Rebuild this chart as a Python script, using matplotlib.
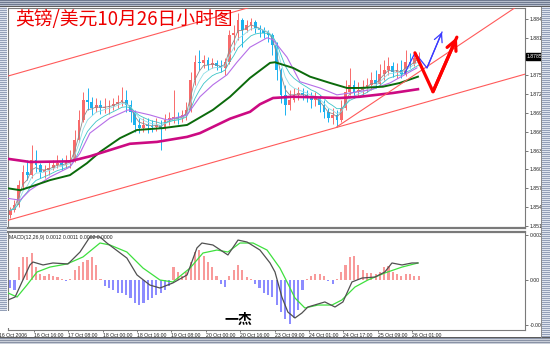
import numpy as np
import pandas as pd
import matplotlib
matplotlib.use("Agg")
import matplotlib.pyplot as plt
from matplotlib.patches import Rectangle
from matplotlib.transforms import blended_transform_factory
from matplotlib import font_manager

# ---------------- data (GBP/USD, 2-hour candles) ----------------
first_open = 1.8532
closes = [1.8540, 1.8548, 1.8580, 1.8601, 1.8596, 1.8620, 1.8612, 1.8601, 1.8604, 1.8607,
          1.8612, 1.8615, 1.8612, 1.8617, 1.8620, 1.8652, 1.8684, 1.8716, 1.8713, 1.8703,
          1.8708, 1.8703, 1.8705, 1.8706, 1.8709, 1.8713, 1.8716, 1.8708, 1.8697, 1.8676,
          1.8671, 1.8676, 1.8674, 1.8673, 1.8676, 1.8671, 1.8684, 1.8687, 1.8689, 1.8687,
          1.8692, 1.8700, 1.8748, 1.8776, 1.8775, 1.8780, 1.8772, 1.8775, 1.8770, 1.8767,
          1.8776, 1.8820, 1.8823, 1.8843, 1.8827, 1.8835, 1.8840, 1.8831, 1.8827, 1.8823,
          1.8820, 1.8804, 1.8764, 1.8724, 1.8708, 1.8716, 1.8724, 1.8727, 1.8724, 1.8722,
          1.8716, 1.8719, 1.8708, 1.8697, 1.8687, 1.8692, 1.8684, 1.8703, 1.8729, 1.8740,
          1.8729, 1.8732, 1.8735, 1.8740, 1.8748, 1.8741, 1.8757, 1.8764, 1.8770, 1.8760,
          1.8764, 1.8757, 1.8776, 1.8773, 1.8783, 1.8785]
highs = [1.8545, 1.8556, 1.8588, 1.8612, 1.8620, 1.8644, 1.8636, 1.8615, 1.8612, 1.8617,
         1.8620, 1.8628, 1.8623, 1.8628, 1.8636, 1.8668, 1.8700, 1.8729, 1.8735, 1.8721,
         1.8719, 1.8716, 1.8719, 1.8716, 1.8719, 1.8724, 1.8737, 1.8732, 1.8716, 1.8700,
         1.8687, 1.8687, 1.8687, 1.8684, 1.8687, 1.8684, 1.8694, 1.8697, 1.8732, 1.8697,
         1.8700, 1.8713, 1.8760, 1.8788, 1.8796, 1.8788, 1.8784, 1.8783, 1.8780, 1.8780,
         1.8783, 1.8827, 1.8835, 1.8855, 1.8847, 1.8843, 1.8847, 1.8843, 1.8835, 1.8832,
         1.8827, 1.8823, 1.8808, 1.8767, 1.8740, 1.8732, 1.8735, 1.8737, 1.8735, 1.8732,
         1.8729, 1.8729, 1.8724, 1.8716, 1.8703, 1.8703, 1.8700, 1.8716, 1.8748, 1.8767,
         1.8748, 1.8745, 1.8748, 1.8751, 1.8760, 1.8764, 1.8773, 1.8780, 1.8784, 1.8776,
         1.8775, 1.8780, 1.8796, 1.8791, 1.8792, 1.8792]
lows = [1.8528, 1.8537, 1.8545, 1.8576, 1.8588, 1.8591, 1.8601, 1.8591, 1.8591, 1.8596,
        1.8604, 1.8607, 1.8604, 1.8607, 1.8607, 1.8617, 1.8649, 1.8681, 1.8700, 1.8692,
        1.8697, 1.8694, 1.8695, 1.8694, 1.8700, 1.8703, 1.8706, 1.8697, 1.8681, 1.8665,
        1.8663, 1.8665, 1.8663, 1.8665, 1.8666, 1.8636, 1.8668, 1.8676, 1.8679, 1.8678,
        1.8681, 1.8684, 1.8697, 1.8740, 1.8764, 1.8767, 1.8764, 1.8767, 1.8764, 1.8760,
        1.8756, 1.8773, 1.8796, 1.8812, 1.8800, 1.8824, 1.8827, 1.8823, 1.8816, 1.8815,
        1.8808, 1.8788, 1.8748, 1.8711, 1.8692, 1.8700, 1.8713, 1.8716, 1.8716, 1.8713,
        1.8703, 1.8706, 1.8697, 1.8687, 1.8681, 1.8678, 1.8673, 1.8681, 1.8700, 1.8724,
        1.8719, 1.8722, 1.8724, 1.8729, 1.8732, 1.8735, 1.8738, 1.8748, 1.8756, 1.8753,
        1.8751, 1.8751, 1.8754, 1.8767, 1.8770, 1.8776]

# slow moving averages (hours from chart start, price)
ma_magenta_h = [0, 10.2, 28.8, 38.1, 47.4, 56.7, 69.3, 83.3, 89.3, 103.3, 112.6, 117.2, 123.3, 132.6, 154.4, 163.7, 179.1, 190.7]
ma_magenta_p = [1.8622, 1.8617, 1.8618, 1.8626, 1.8636, 1.8646, 1.8649, 1.8657, 1.8663, 1.8686, 1.8697, 1.8709, 1.8719, 1.8721, 1.8719, 1.8721, 1.8727, 1.8733]
ma_green_h = [0, 5.6, 10.2, 19.5, 28.8, 36.7, 42.8, 52.1, 60.0, 72.1, 83.3, 95.3, 103.3, 112.6, 121.9, 124.2, 132.6, 140.5, 149.8, 157.7, 163.7, 174.4, 182.3, 190.7]
ma_green_p = [1.8575, 1.8572, 1.8577, 1.8588, 1.8596, 1.8615, 1.8633, 1.8655, 1.8668, 1.8671, 1.8676, 1.8700, 1.8721, 1.8751, 1.8775, 1.8776, 1.8767, 1.8753, 1.8743, 1.8735, 1.8735, 1.8737, 1.8743, 1.8753]
ma_purple_h = [0, 5.6, 10.2, 19.5, 28.8, 33.5, 38.1, 47.4, 55.8, 66.0, 74.0, 83.3, 89.3, 95.3, 101.9, 106.5, 112.6, 120.5, 123.3, 129.8, 135.8, 145.1, 153.0, 159.1, 168.4, 177.7, 190.2]
ma_purple_p = [1.8559, 1.8556, 1.8572, 1.8593, 1.8609, 1.8631, 1.8663, 1.8687, 1.8700, 1.8692, 1.8684, 1.8692, 1.8721, 1.8740, 1.8756, 1.8776, 1.8800, 1.8815, 1.8812, 1.8784, 1.8745, 1.8735, 1.8724, 1.8727, 1.8732, 1.8743, 1.8767]
fast_ema_spans = [3, 5, 8]

# MACD panel
macd_hist = [-0.0006, -0.0007, 0.0009, 0.0016, 0.0016, 0.0019, 0.0009, 0.0004, 0.0003, 0.0004,
             0.0003, 0.0002, 0.0001, -0.0001, 0.0001, 0.0007, 0.0010, 0.0013, 0.0014, 0.0016,
             0.0011, 0.0001, -0.0004, -0.0006, -0.0007, -0.0009, -0.0009, -0.0011, -0.0013, -0.0016,
             -0.0018, -0.0016, -0.0014, -0.0013, -0.0011, -0.0009, -0.0007, -0.0004, 0.0009, 0.0006,
             0.0003, 0.0006, 0.0013, 0.0020, 0.0021, 0.0017, 0.0013, 0.0009, 0.0003, -0.0003,
             -0.0005, 0.0003, 0.0007, 0.0011, 0.0007, 0.0002, 0.0001, -0.0003, -0.0006, -0.0009,
             -0.0011, -0.0012, -0.0018, -0.0023, -0.0028, -0.0031, -0.0027, -0.0021, -0.0007, 0.0001,
             0.0003, 0.0004, 0.0004, 0.0003, -0.0001, -0.0003, 0.0001, 0.0006, 0.0011, 0.0016,
             0.0017, 0.0011, 0.0007, 0.0005, 0.0005, 0.0004, 0.0006, 0.0009, 0.0010, 0.0006,
             0.0004, 0.0003, 0.0004, 0.0004, 0.0003, 0.0003]
macd_h = [0, 3.3, 6.5, 10.2, 11.6, 16.3, 20.9, 27.9, 33.5, 38.1, 42.8, 46.0, 55.3, 60.0, 66.0, 70.7,
          76.7, 83.3, 87.9, 90.2, 95.3, 102.3, 107.0, 111.2, 117.2, 121.9, 124.2, 127.4, 130.2, 133.5,
          136.7, 139.5, 147.4, 152.1, 155.8, 160.0, 164.7, 170.7, 175.3, 178.6, 183.3, 187.9, 190.7]
macd_v = [-0.00142, -0.00121, -0.00014, 0.00107, 0.00128, 0.00107, 0.00121, 0.00114, 0.00199, 0.00306,
          0.00306, 0.00263, 0.00156, 0.00036, -0.00036, -0.00057, -0.00021, 0.00036, 0.00228, 0.00263,
          0.00249, 0.00178, 0.00284, 0.00270, 0.00213, 0.00121, 0.00057, -0.00121, -0.00228, -0.00270,
          -0.00235, -0.00192, -0.00156, -0.00192, -0.00156, -0.00014, 0.00014, 0.00021, 0.00057, 0.00121,
          0.00107, 0.00121, 0.00121]
signal_h = [0, 4.2, 8.8, 13.5, 19.5, 27.4, 34.9, 42.8, 47.4, 55.3, 62.8, 70.7, 76.7, 84.7, 90.7, 97.2,
            102.3, 107.9, 114.0, 120.5, 126.5, 129.8, 133.5, 138.1, 144.2, 150.7, 155.3, 161.4, 167.4,
            175.3, 183.3, 190.7]
signal_v = [-0.00092, -0.00121, -0.00036, 0.00057, 0.00092, 0.00114, 0.00164, 0.00263, 0.00249, 0.00199,
            0.00085, 0.0, -0.00014, 0.00085, 0.00192, 0.00213, 0.00199, 0.00263, 0.00263, 0.00213,
            0.00085, -0.00014, -0.00128, -0.00199, -0.00178, -0.00178, -0.00142, -0.00050, 0.0,
            0.00050, 0.00092, 0.00121]
macd_label = "MACD(12,26,9) 0.0012 0.0011 0.0002 0.0000"

# trend lines and forecast arrows (hours, price)
trend_upper_h, trend_upper_p = [0, 115], [1.8754, 1.8866]
trend_lower_h, trend_lower_p = [0, 240.5], [1.8524, 1.8757]
trend_mid_h, trend_mid_p = [153, 237.2], [1.8673, 1.8866]
blue_path_h, blue_path_p = [184.7, 189.3, 194.9, 201.9], [1.8759, 1.8791, 1.8767, 1.8824]
red_path_h, red_path_p = [189.3, 197.7, 208.8], [1.8791, 1.8729, 1.8816]

# axes ticks
price_ticks = [1.8515, 1.8545, 1.8575, 1.8605, 1.8635, 1.8665, 1.8695, 1.8725, 1.8755, 1.8785, 1.8815, 1.8845]
macd_ticks = [-0.0032, 0.0, 0.0032]
macd_tick_labels = ["-0.0032", "0.00", "0.0032"]
x_tick_hours = [12, 28, 44, 60, 76, 92, 108, 124, 140, 156, 172, 188]
x_tick_labels = ["16 Oct 16:00", "17 Oct 08:00", "18 Oct 00:00", "18 Oct 16:00", "19 Oct 08:00",
                 "20 Oct 00:00", "20 Oct 16:00", "23 Oct 09:00", "24 Oct 01:00", "24 Oct 17:00",
                 "25 Oct 09:00", "26 Oct 01:00"]
first_date_hour, first_date_label = -4, "16 Oct 2006"
title = "英镑/美元10月26日小时图"
signature = "一杰"

# ---------------- drawing ----------------
W, H = 550, 344
fig = plt.figure(figsize=(W / 100, H / 100), dpi=100)
fig.patch.set_facecolor("white")


def fx(x):
    return x / W


def fy(y):
    return 1 - y / H


names = {f.name for f in font_manager.fontManager.ttflist}
if "Liberation Sans Narrow" in names:
    SF, SS = "Liberation Sans Narrow", 4.3
else:
    SF, SS = "Liberation Sans", 3.7
CJK = ["Noto Sans CJK SC", "DejaVu Sans"]
FRAME = "#7a7a7a"

ax = fig.add_axes([fx(8), fy(228), (525 - 8) / W, (228 - 8) / H])
ax2 = fig.add_axes([fx(8), fy(330), (525 - 8) / W, (330 - 232) / H])
XMAX = 240.5
ax.set_xlim(0, XMAX)
ax.set_ylim(1.85117, 1.88625)
ax2.set_xlim(0, XMAX)
ax2.set_ylim(-0.003555, 0.003413)

# candles
c = np.array(closes)
o = np.array([first_open] + closes[:-1])
hi = np.array(highs)
lo = np.array(lows)
hours = np.arange(len(closes)) * 2 + 1
UP, DOWN = "#f86a6a", "#1ab2f0"
col = np.where(c >= o, UP, DOWN)
ax.vlines(hours, lo, hi, colors=col, lw=0.7, zorder=3)
ax.bar(hours, np.maximum(np.abs(c - o), 0.00008), bottom=np.minimum(o, c), width=1.3,
       color=col, edgecolor="none", zorder=3)

# fast EMAs from closes
s = pd.Series(closes)
for span, colr in zip(fast_ema_spans, ["#8c8c8c", "#8fdfe6", "#3cc4c8"]):
    ax.plot(hours, s.ewm(span=span, adjust=False).mean(), color=colr, lw=0.6, zorder=4)

ax.plot(ma_purple_h, ma_purple_p, color="#b56ee8", lw=0.8, zorder=5)
ax.plot(ma_green_h, ma_green_p, color="#0b6a0b", lw=1.4, zorder=5)
ax.plot(ma_magenta_h, ma_magenta_p, color="#cc0a82", lw=1.9, zorder=5)

for th, tp in [(trend_upper_h, trend_upper_p), (trend_lower_h, trend_lower_p), (trend_mid_h, trend_mid_p)]:
    ax.plot(th, tp, color="#ff5a5a", lw=0.8, zorder=6)

# forecast arrows
ax.plot(blue_path_h, blue_path_p, color="#3a3aff", lw=0.9, zorder=7)
ax.annotate("", xy=(blue_path_h[-1], blue_path_p[-1]), xytext=(blue_path_h[-2], blue_path_p[-2]),
            arrowprops=dict(arrowstyle="->,head_length=0.6,head_width=0.3", color="#3a3aff", lw=0.9,
                            shrinkA=0, shrinkB=0), zorder=7)
ax.plot(red_path_h, red_path_p, color="#ff0000", lw=2.3, zorder=8, solid_capstyle="round")
ax.annotate("", xy=(red_path_h[-1], red_path_p[-1]), xytext=(red_path_h[-2], red_path_p[-2]),
            arrowprops=dict(arrowstyle="->,head_length=0.7,head_width=0.35", color="#ff0000", lw=2.3,
                            shrinkA=0, shrinkB=0), zorder=8)

# price axis (the tick hidden by the last-price box gets no separate label)
last_label = f"{closes[-1]:.4f}"
ax.set_xticks([])
ax.yaxis.tick_right()
ax.set_yticks(price_ticks)
ax.set_yticklabels(["" if f"{v:.4f}" == last_label else f"{v:.4f}" for v in price_ticks],
                   fontsize=SS, family=SF, color="#202020")
ax.tick_params(axis="y", length=2, width=0.5, pad=1.2, color="#404040")
tr = blended_transform_factory(ax.transAxes, ax.transData)
ax.text(1.004, closes[-1], last_label, transform=tr, fontsize=SS, family=SF, color="white",
        va="center", ha="left", zorder=20, clip_on=False,
        bbox=dict(facecolor="black", edgecolor="black", pad=0.8))

# MACD panel
mh = np.array(macd_hist)
ax2.bar(hours, mh, width=1.0, color=np.where(mh >= 0, "#f89a9a", "#8c8cff"), edgecolor="none", zorder=2)
ax2.plot(signal_h, signal_v, color="#3ee03e", lw=0.9, zorder=3)
ax2.plot(macd_h, macd_v, color="#505050", lw=0.9, zorder=4)
ax2.yaxis.tick_right()
ax2.set_yticks(macd_ticks)
ax2.set_yticklabels(macd_tick_labels, fontsize=SS, family=SF, color="#202020")
ax2.tick_params(axis="y", length=2, width=0.5, pad=1.2, color="#404040")
ax2.set_xticks(x_tick_hours)
ax2.set_xticklabels(x_tick_labels, fontsize=SS, family=SF, color="#202020")
for lab in ax2.get_xticklabels():
    lab.set_horizontalalignment("left")
ax2.tick_params(axis="x", length=1.5, width=0.5, pad=0.4, color="#404040")
ax2.annotate(first_date_label, xy=(first_date_hour, 0), xycoords=blended_transform_factory(ax2.transData, ax2.transAxes),
             xytext=(0, -1.9), textcoords="offset points", fontsize=SS, family=SF, color="#202020",
             ha="left", va="top", annotation_clip=False)
ax2.text(0.002, 0.965, macd_label, transform=ax2.transAxes, fontsize=SS, family=SF, color="#202020",
         ha="left", va="top")

for a in (ax, ax2):
    for sp in a.spines.values():
        sp.set_color(FRAME)
        sp.set_linewidth(0.8)
ax.spines["bottom"].set_linewidth(1.6)
ax2.spines["top"].set_linewidth(1.6)


# ---------------- window decoration ----------------
def band(x0, x1, y0, y1, bg, fg, z=5):
    fig.add_artist(Rectangle((fx(x0), fy(y1)), (x1 - x0) / W, (y1 - y0) / H, transform=fig.transFigure,
                             facecolor=bg, edgecolor="none", zorder=z, antialiased=False))
    for yy in range(y0, y1, 2):
        fig.add_artist(Rectangle((fx(x0), fy(yy + 1)), (x1 - x0) / W, 1 / H, transform=fig.transFigure,
                                 facecolor=fg, edgecolor="none", zorder=z, antialiased=False))


band(0, 550, 0, 6, "#b4bccb", "#6f7a90")
band(0, 7, 6, 311, "#dfe4ee", "#94a0b8")
band(542, 550, 6, 338, "#dfe4ee", "#94a0b8")
band(0, 550, 338, 344, "#c9ced8", "#8a93a6")
fig.add_artist(Rectangle((fx(0), fy(7)), 1, 1 / H, transform=fig.transFigure, facecolor="#5c5c5c",
                         edgecolor="none", zorder=6, antialiased=False))
fig.add_artist(Rectangle((fx(0), fy(338)), 1, 1 / H, transform=fig.transFigure, facecolor="#5c5c5c",
                         edgecolor="none", zorder=6, antialiased=False))
fig.add_artist(Rectangle((fx(541), fy(338)), 1 / W, 331 / H, transform=fig.transFigure, facecolor="#8a8a8a",
                         edgecolor="none", zorder=6, antialiased=False))
# erased watermark strip and signature
fig.add_artist(Rectangle((fx(0), fy(328)), 257 / W, 17 / H, transform=fig.transFigure, facecolor="white",
                         edgecolor="none", zorder=7))
fig.text(fx(224), fy(320), signature, fontsize=10, color="black", family=CJK, ha="left", va="center",
         zorder=8, fontweight="bold")

fig.text(fx(15), fy(20), title, fontsize=13.5, color="#ee0000", family=CJK, ha="left", va="center", zorder=9)

fig.savefig("out.png", dpi=100, facecolor="white")
